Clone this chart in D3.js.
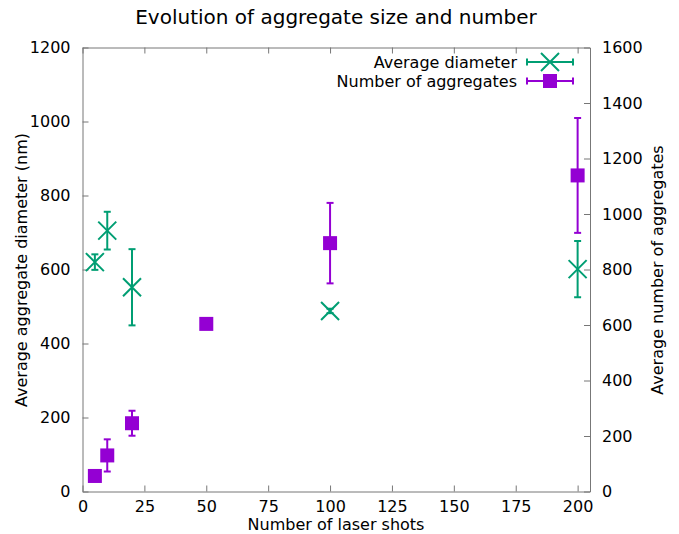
<!DOCTYPE html>
<html>
<head>
<meta charset="utf-8">
<script src="https://cdn.jsdelivr.net/npm/d3@7"></script>
<style>
body { margin: 0; background: #fff; }
svg text { font-family: "DejaVu Sans", sans-serif; fill: #000; }
</style>
</head>
<body>
<svg id="chart" width="679" height="534"></svg>
<script>
// laser shots
var shotsDiam = [5, 10, 20, 100, 200];
var diameter = [620, 705, 552, 488, 601];
var diameterErr = [21, 51, 103, 6, 76];

var shotsNum = [5, 10, 20, 50, 100, 200];
var number = [56, 130, 246, 604, 895, 1139];
var numberErr = [8, 58, 45, 12, 145, 207];

var xTicks = [0, 25, 50, 75, 100, 125, 150, 175, 200];
var yTicks = [0, 200, 400, 600, 800, 1000, 1200];
var y2Ticks = [0, 200, 400, 600, 800, 1000, 1200, 1400, 1600];

var green = '#009e73', purple = '#9400d3';

var svg = d3.select('#chart');
var pLeft = 82.5, pRight = 590, pTop = 47.5, pBottom = 491.5;

var x = d3.scaleLinear().domain([0, 205]).range([pLeft, pRight]);
var y = d3.scaleLinear().domain([0, 1200]).range([pBottom, pTop]);
var y2 = d3.scaleLinear().domain([0, 1600]).range([pBottom, pTop]);
var fmt = d3.format('d');

// axes with inward ticks
svg.append('g')
  .attr('transform', 'translate(0,' + pBottom + ')')
  .call(d3.axisBottom(x).tickValues(xTicks).tickFormat(fmt).tickSizeInner(-6).tickSizeOuter(0).tickPadding(9))
  .call(styleAxis);
svg.append('g')
  .attr('transform', 'translate(0,' + pTop + ')')
  .call(d3.axisTop(x).tickValues(xTicks).tickSizeInner(-6).tickSizeOuter(0).tickFormat(''))
  .call(styleAxis);
svg.append('g')
  .attr('transform', 'translate(' + pLeft + ',0)')
  .call(d3.axisLeft(y).tickValues(yTicks).tickFormat(fmt).tickSizeInner(-6).tickSizeOuter(0).tickPadding(12))
  .call(styleAxis);
svg.append('g')
  .attr('transform', 'translate(' + pRight + ',0)')
  .call(d3.axisRight(y2).tickValues(y2Ticks).tickFormat(fmt).tickSizeInner(-6).tickSizeOuter(0).tickPadding(12))
  .call(styleAxis);

function styleAxis(g) {
  g.select('.domain').attr('stroke', '#777');
  g.selectAll('.tick line').attr('stroke', '#777');
  g.selectAll('text').attr('font-size', 16).attr('font-family', 'DejaVu Sans');
}

// error bars
function errorBars(xs, ys, errs, scale, color) {
  var g = svg.append('g').attr('stroke', color).attr('stroke-width', 2);
  xs.forEach(function(d, i) {
    var cx = x(d), lo = scale(ys[i] - errs[i]), hi = scale(ys[i] + errs[i]);
    g.append('line').attr('x1', cx).attr('x2', cx).attr('y1', lo).attr('y2', hi);
    g.append('line').attr('x1', cx - 3.5).attr('x2', cx + 3.5).attr('y1', lo).attr('y2', lo);
    g.append('line').attr('x1', cx - 3.5).attr('x2', cx + 3.5).attr('y1', hi).attr('y2', hi);
  });
}
errorBars(shotsDiam, diameter, diameterErr, y, green);
errorBars(shotsNum, number, numberErr, y2, purple);

function cross(g, cx, cy, color) {
  var s = 9;
  g.append('path')
    .attr('d', 'M' + (cx - s) + ',' + (cy - s) + 'L' + (cx + s) + ',' + (cy + s) +
               'M' + (cx - s) + ',' + (cy + s) + 'L' + (cx + s) + ',' + (cy - s))
    .attr('stroke', color).attr('stroke-width', 2).attr('fill', 'none');
}
function square(g, cx, cy, color) {
  g.append('rect').attr('x', cx - 7).attr('y', cy - 7).attr('width', 14).attr('height', 14)
    .attr('fill', color);
}

var marks = svg.append('g');
shotsDiam.forEach(function(d, i) { cross(marks, x(d), y(diameter[i]), green); });
shotsNum.forEach(function(d, i) { square(marks, x(d), y2(number[i]), purple); });

// legend
var legend = [
  {label: 'Average diameter', color: green, mark: cross},
  {label: 'Number of aggregates', color: purple, mark: square}
];
legend.forEach(function(l, i) {
  var ly = 62 + i * 19;
  svg.append('text').attr('x', 517).attr('y', ly).attr('dy', '0.35em')
    .attr('text-anchor', 'end').attr('font-size', 16).text(l.label);
  var g = svg.append('g').attr('stroke', l.color).attr('stroke-width', 2);
  g.append('line').attr('x1', 527).attr('x2', 573).attr('y1', ly).attr('y2', ly);
  g.append('line').attr('x1', 527).attr('x2', 527).attr('y1', ly - 3.5).attr('y2', ly + 3.5);
  g.append('line').attr('x1', 573).attr('x2', 573).attr('y1', ly - 3.5).attr('y2', ly + 3.5);
  l.mark(svg, 550, ly, l.color);
});

// titles
svg.append('text').attr('x', 336).attr('y', 24).attr('text-anchor', 'middle')
  .attr('font-size', 20).text('Evolution of aggregate size and number');
svg.append('text').attr('x', 336).attr('y', 530).attr('text-anchor', 'middle')
  .attr('font-size', 16).text('Number of laser shots');
svg.append('text').attr('transform', 'translate(27,270) rotate(-90)')
  .attr('text-anchor', 'middle').attr('font-size', 16).text('Average aggregate diameter (nm)');
svg.append('text').attr('transform', 'translate(663,270) rotate(-90)')
  .attr('text-anchor', 'middle').attr('font-size', 16).text('Average number of aggregates');
</script>
</body>
</html>
